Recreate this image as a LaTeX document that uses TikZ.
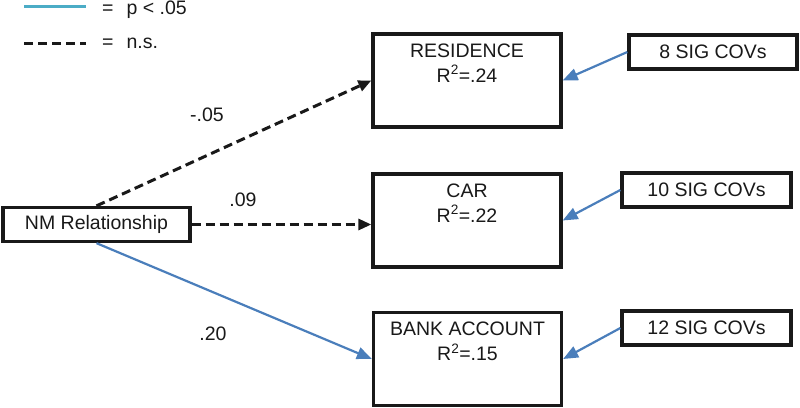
\documentclass[tikz,border=0pt]{standalone}
\usepackage{fontspec}
\setmainfont{Liberation Sans}
\usetikzlibrary{arrows.meta,calc}
\definecolor{sigblue}{RGB}{74,126,187}
\definecolor{legblue}{RGB}{75,172,198}
\begin{document}
\begin{tikzpicture}[x=1pt,y=-1pt,
  txt/.style={font=\fontsize{19.5}{25}\selectfont, text=black!90, inner sep=0pt},
  box/.style={draw=black!90, line width=3.3pt, inner sep=0pt, fill=white},
  depbox/.style={box, minimum width=188pt, minimum height=93pt},
  covbox/.style={box, minimum width=169pt, minimum height=34pt, txt},
  nsline/.style={black!90, line width=3pt, dash pattern=on 9pt off 5pt},
  sigline/.style={sigblue, line width=2.2pt},
  nstip/.style={-{Triangle[length=13pt,width=11pt]}},
  sigtip/.style={-{Triangle[length=15pt,width=12pt]}}
]
\useasboundingbox (0,0) rectangle (800,407);
% legend
\coordinate (l1a) at (24,6); \coordinate (l1b) at (86,6);
\coordinate (l2a) at (24,43); \coordinate (l2b) at (86,43);
\draw[legblue, line width=3pt] (l1a) -- (l1b);
\draw[nsline] (l2a) -- (l2b);
\node[txt, anchor=west] (leg1) at (102,10) {=\hspace{13pt}p < .05};
\node[txt, anchor=west] (leg2) at (102,43) {=\hspace{13pt}n.s.};
% boxes
\node[box, minimum width=187pt, minimum height=34pt, txt] (nm) at (96.5,224.5) {NM Relationship};
\node[depbox] (res) at (467,80.5) {};
\node[depbox] (car) at (467,220.5) {};
\node[depbox] (bank) at (467.5,359) {};
\node[txt, align=center, anchor=north] (resT) at ($(res.north)+(0,11)$) {RESIDENCE\\R\textsuperscript{2}=.24};
\node[txt, align=center, anchor=north] (carT) at ($(car.north)+(0,11)$) {CAR\\R\textsuperscript{2}=.22};
\node[txt, align=center, anchor=north] (bankT) at ($(bank.north)+(0,11)$) {BANK ACCOUNT\\R\textsuperscript{2}=.15};
\node[covbox, minimum width=168pt] (c8) at (713,52) {8 SIG COVs};
\node[covbox] (c10) at (706.5,190) {10 SIG COVs};
\node[covbox] (c12) at (706.5,328) {12 SIG COVs};
% paths
\draw[nsline, nstip] (nm.north) -- (res.west);
\draw[nsline, nstip] (nm.east) -- (car.west |- nm.east);
\draw[sigline, sigtip] (nm.south) -- (bank.west);
\draw[sigline, sigtip] (c8.west) -- (res.east);
\draw[sigline, sigtip] (c10.west) -- (car.east);
\draw[sigline, sigtip] (c12.west) -- (bank.east);
% coefficient labels
\node[txt] (b1) at (207,115) {-.05};
\node[txt] (b2) at (243,200) {.09};
\node[txt] (b3) at (213,334) {.20};
\end{tikzpicture}
\end{document}
